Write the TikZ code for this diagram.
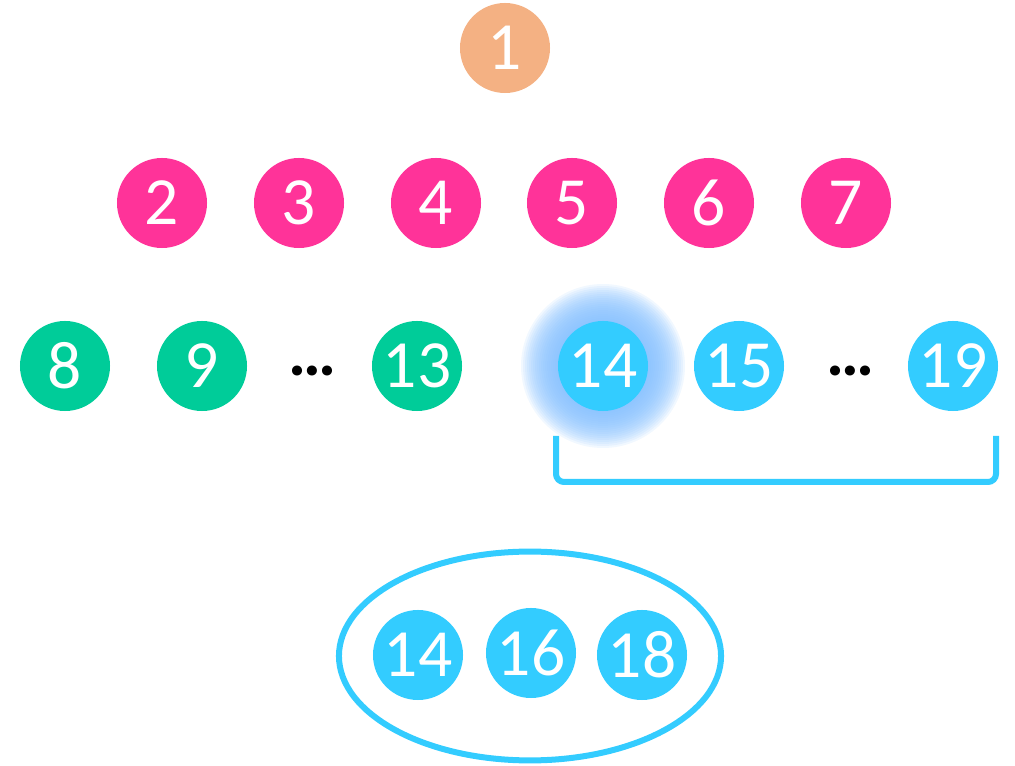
\documentclass[tikz,border=0pt]{standalone}
\usepackage{fontspec}
\setmainfont{Carlito}
\usepackage{tikz}
\usetikzlibrary{shapes.geometric}

\definecolor{peach}{HTML}{F4B183}
\definecolor{rose}{HTML}{FF3399}
\definecolor{mint}{HTML}{00CC99}
\definecolor{sky}{HTML}{33CCFF}
\definecolor{haze}{RGB}{130,190,255}

\begin{document}
\begin{tikzpicture}[
    x=0.025cm,y=-0.025cm,
    ball/.style={circle,minimum size=2.25cm,inner sep=0pt,text=white,font=\fontsize{48}{48}\selectfont},
    rootball/.style={ball,fill=peach},
    midball/.style={ball,fill=rose},
    leftball/.style={ball,fill=mint},
    rightball/.style={ball,fill=sky},
    gap/.style={font=\fontsize{48}{48}\selectfont\bfseries,inner sep=0pt},
    bracket/.style={draw=sky,line width=0.15cm,rounded corners=0.2cm}
]
\useasboundingbox (0,0) rectangle (1015,766);

% root
\node[rootball] (n1) at (505,48) {1};

% second row
\node[midball] (n2) at (162,203) {2};
\node[midball] (n3) at (299,203) {3};
\node[midball] (n4) at (436,203) {4};
\node[midball] (n5) at (572,203) {5};
\node[midball] (n6) at (709,203) {6};
\node[midball] (n7) at (846,203) {7};

% third row, left part
\node[leftball] (n8) at (65,366) {8};
\node[leftball] (n9) at (202,366) {9};
\node[gap] (dotsl) at (313,371) {…};
\node[leftball] (n13) at (417,366) {13};

% third row, right part
\foreach \r in {46,48,...,82}
  \fill[haze,opacity=0.11] (603,366) circle [radius={\r*0.025cm}];
\node[rightball] (n14) at (603,366) {14};
\node[rightball] (n15) at (739,366) {15};
\node[gap] (dotsr) at (851,371) {…};
\node[rightball] (n19) at (953,366) {19};
\draw[bracket] (556,436) |- (996,482) -- (996,436);

% picked subset
\node[ellipse,draw=sky,line width=0.15cm,minimum width=9.55cm,minimum height=5.22cm] (group) at (530,656) {};
\node[rightball] (m14) at (418,655) {14};
\node[rightball] (m16) at (531,653) {16};
\node[rightball] (m18) at (642,655) {18};
\end{tikzpicture}
\end{document}
